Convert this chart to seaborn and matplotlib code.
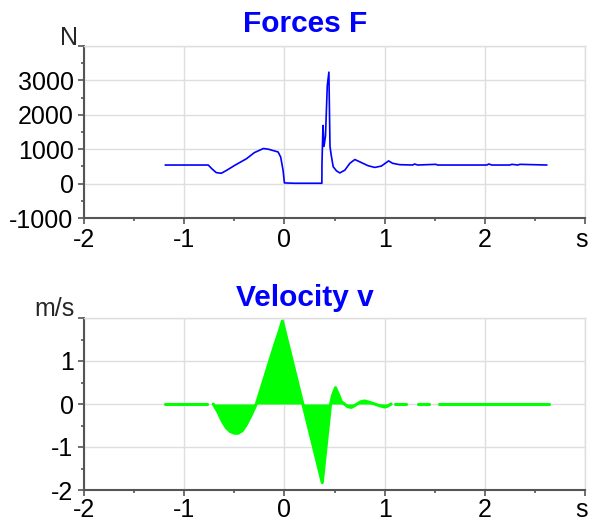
import numpy as np
import pandas as pd
import matplotlib
matplotlib.use("Agg")
import matplotlib.pyplot as plt
from matplotlib.transforms import ScaledTranslation
import seaborn as sns

# ---- data ----
force_t = [-1.19, -0.76, -0.72, -0.68, -0.63, -0.58, -0.49, -0.38, -0.30, -0.21, -0.16,
           -0.10, -0.063, -0.037, -0.013, 0.0, 0.1, 0.2, 0.3, 0.374, 0.375, 0.385, 0.395,
           0.41, 0.428, 0.444, 0.455, 0.467, 0.487, 0.52, 0.553, 0.603, 0.653, 0.703,
           0.769, 0.835, 0.902, 0.968, 1.04, 1.08, 1.15, 1.28, 1.30, 1.33, 1.51, 1.53,
           2.02, 2.04, 2.07, 2.25, 2.27, 2.33, 2.35, 2.62]
force_F = [540, 540, 420, 320, 300, 380, 540, 720, 900, 1020, 1000,
           950, 920, 770, 380, 20, 10, 10, 10, 10, 590, 1690, 1080,
           1380, 2850, 3240, 1080, 830, 490, 370, 310, 390, 590, 700,
           610, 520, 470, 510, 660, 590, 550, 540, 570, 540, 560, 540,
           540, 570, 540, 540, 560, 540, 560, 540]

# velocity is recorded in separate pieces (gaps between them)
vel_t = [-1.19, -0.776,
         -0.71, -0.66, -0.62, -0.58, -0.54, -0.50, -0.46, -0.42,
         -0.38, -0.34, -0.30, -0.28, -0.22, -0.16, -0.10, -0.05, -0.02, 0.378, 0.461,
         0.48, 0.51, 0.54, 0.57, 0.60, 0.63, 0.667, 0.70, 0.726, 0.76, 0.80, 0.85,
         0.90, 0.95, 1.00, 1.03, 1.065,
         1.10, 1.21,
         1.33, 1.44,
         1.54, 2.64]
vel_v = [0.0, 0.0,
         0.0, -0.2, -0.4, -0.55, -0.64, -0.68, -0.68, -0.62,
         -0.48, -0.3, -0.1, 0.0, 0.45, 0.9, 1.35, 1.7, 1.93, -1.83, 0.0,
         0.2, 0.38, 0.22, 0.05, 0.0, -0.06, -0.08, -0.04, 0.0, 0.05, 0.07, 0.04,
         0.0, -0.04, -0.07, -0.05, 0.0,
         0.0, 0.0,
         0.0, 0.0,
         0.0, 0.0]
vel_piece = [0, 0,
             1, 1, 1, 1, 1, 1, 1, 1,
             1, 1, 1, 1, 1, 1, 1, 1, 1, 1, 1,
             1, 1, 1, 1, 1, 1, 1, 1, 1, 1, 1, 1,
             1, 1, 1, 1, 1,
             2, 2,
             3, 3,
             4, 4]

x_ticks = [-2, -1, 0, 1, 2, 3]
x_labels = ["-2", "-1", "0", "1", "2", "s"]
f_ticks = [-1000, 0, 1000, 2000, 3000, 4000]
f_labels = ["-1000", "0", "1000", "2000", "3000", ""]
v_ticks = [-2, -1, 0, 1, 2]
v_labels = ["-2", "-1", "0", "1", ""]

sns.set_theme(style="white")
plt.rcParams["font.family"] = ["Liberation Sans", "DejaVu Sans"]
plt.rcParams["axes.unicode_minus"] = False

W, H = 589, 521
fig = plt.figure(figsize=(W / 100, H / 100), dpi=100)
left, right = 84 / W, 585 / W
ax1 = fig.add_axes([left, 1 - 218 / H, right - left, 172 / H])
ax2 = fig.add_axes([left, 1 - 490 / H, right - left, 172 / H])

df_f = pd.DataFrame({"t": force_t, "F": force_F})
df_v = pd.DataFrame({"t": vel_t, "v": vel_v, "piece": vel_piece})

sns.lineplot(data=df_f, x="t", y="F", ax=ax1, color="#0000FF", linewidth=1.2,
             estimator=None, sort=False)
for _, g in df_v.groupby("piece"):
    ax2.fill_between(g["t"], 0, g["v"], color="#00FF00", linewidth=0)
sns.lineplot(data=df_v, x="t", y="v", units="piece", ax=ax2, color="#00FF00",
             linewidth=2.2, estimator=None, sort=False)

def style(ax, yticks, ylabels, ylim, yminor, xpad):
    ax.set_xlim(-2, 3)
    ax.set_ylim(*ylim)
    ax.set_xticks(x_ticks)
    ax.set_xticklabels(x_labels)
    ax.set_xticks(np.arange(-2, 3.01, 0.5), minor=True)
    ax.set_yticks(yticks)
    ax.set_yticklabels(ylabels)
    ax.set_yticks(yminor, minor=True)
    ax.set_xlabel("")
    ax.set_ylabel("")
    ax.grid(True, which="major", color="#dedede", linewidth=1)
    for s in ("top", "right"):
        ax.spines[s].set_color("#dedede")
        ax.spines[s].set_linewidth(1)
    for s in ("left", "bottom"):
        ax.spines[s].set_color("#555555")
        ax.spines[s].set_linewidth(1.5)
    ax.tick_params(which="major", direction="out", length=4, width=1.2,
                   color="#555555", labelsize=18, labelcolor="black",
                   bottom=True, left=True)
    ax.tick_params(axis="x", which="major", pad=xpad)
    ax.tick_params(axis="y", which="major", pad=3.5)
    ax.tick_params(which="minor", direction="out", length=2.5, width=1.2,
                   color="#555555", bottom=True, left=True)
    ax.set_axisbelow(True)
    for lab in ax.get_xticklabels():
        if lab.get_text() == "s":
            lab.set_transform(lab.get_transform() +
                              ScaledTranslation(-3.5 / 100, 0, fig.dpi_scale_trans))

style(ax1, f_ticks, f_labels, (-1000, 4000), np.arange(-1000, 4001, 500), 3.5)
style(ax2, v_ticks, v_labels, (-2, 2), np.arange(-2, 2.01, 0.5), 2.0)

fig.text(78 / W, 1 - 45 / H, "N", ha="right", va="baseline", fontsize=18)
fig.text(75 / W, 1 - 316 / H, "m/s", ha="right", va="baseline", fontsize=18)
fig.text(305 / W, 1 - 32 / H, "Forces F", ha="center", va="baseline",
         fontsize=21.5, fontweight="bold", color="#0000FF")
fig.text(305 / W, 1 - 306 / H, "Velocity v", ha="center", va="baseline",
         fontsize=21.5, fontweight="bold", color="#0000FF")

fig.savefig("out.png", dpi=100)
